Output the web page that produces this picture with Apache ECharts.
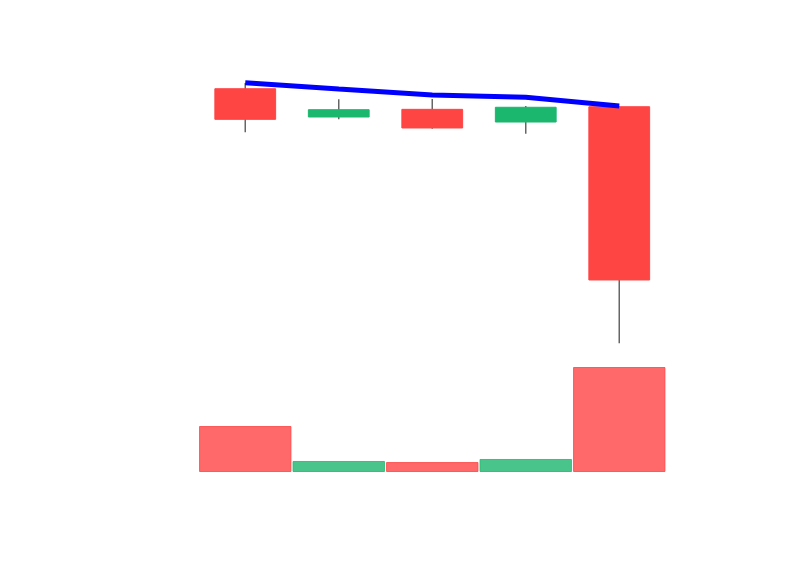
<!DOCTYPE html>
<html>
<head>
<meta charset="utf-8">
<script src="https://cdn.jsdelivr.net/npm/echarts@6/dist/echarts.min.js"></script>
<style>html,body{margin:0;padding:0;background:#fff;}#chart{width:800px;height:575px;}</style>
</head>
<body>
<div id="chart"></div>
<script>
// categories
var categories = ['D1', 'D2', 'D3', 'D4', 'D5'];
// OHLC: [open, close, low, high]
var opens  = [89.03, 85.89, 86.74, 85.33, 87.03];
var closes = [85.63, 86.70, 84.67, 86.97, 67.78];
var lows   = [84.19, 85.63, 84.59, 84.03, 60.74];
var highs  = [89.67, 87.86, 87.89, 87.11, 87.10];
// blue line values
var lineValues = [89.70, 89.00, 88.33, 88.08, 87.11];
// volumes
var volumes = [43800, 10500, 9500, 12400, 100000];

var UP = '#1bb76e', DOWN = '#ff4444';

var candleData = categories.map(function (c, i) {
  return [i, opens[i], closes[i], lows[i], highs[i]];
});
var volData = volumes.map(function (v, i) {
  var col = closes[i] >= opens[i] ? UP : DOWN;
  return { value: v, itemStyle: { color: col, opacity: 0.8, borderColor: col, borderWidth: 1 } };
});

var chart = echarts.init(document.getElementById('chart'), null, { renderer: 'canvas' });
chart.setOption({
  animation: false,
  backgroundColor: '#ffffff',
  grid: [
    { left: 198.5, width: 467.5, top: 80, height: 270 },
    { left: 198.5, width: 467.5, top: 367, height: 105 }
  ],
  xAxis: [
    { type: 'category', data: categories, gridIndex: 0, show: false, boundaryGap: true },
    { type: 'category', data: categories, gridIndex: 1, show: false, boundaryGap: true }
  ],
  yAxis: [
    { type: 'value', gridIndex: 0, min: 60, max: 90, show: false, splitLine: { show: false } },
    { type: 'value', gridIndex: 1, min: 0, max: 100000, show: false, splitLine: { show: false } }
  ],
  series: [
    {
      type: 'custom',
      xAxisIndex: 0, yAxisIndex: 0,
      data: candleData,
      encode: { x: 0, y: [1, 2, 3, 4] },
      renderItem: function (params, api) {
        var idx = api.value(0);
        var o = api.value(1), c = api.value(2), l = api.value(3), h = api.value(4);
        var pO = api.coord([idx, o]);
        var pC = api.coord([idx, c]);
        var pL = api.coord([idx, l]);
        var pH = api.coord([idx, h]);
        var band = api.size([1, 0])[0];
        var w = band * 0.65;
        var col = c >= o ? UP : DOWN;
        var top = Math.min(pO[1], pC[1]);
        var hgt = Math.abs(pO[1] - pC[1]);
        return {
          type: 'group',
          children: [
            { type: 'line', shape: { x1: pH[0], y1: pH[1], x2: pL[0], y2: pL[1] },
              style: { stroke: '#666666', lineWidth: 1.5 } },
            { type: 'rect', shape: { x: pO[0] - w / 2, y: top, width: w, height: hgt },
              style: { fill: col, stroke: col, lineWidth: 1 } }
          ]
        };
      },
      z: 2
    },
    {
      type: 'line',
      xAxisIndex: 0, yAxisIndex: 0,
      data: lineValues,
      showSymbol: false,
      symbol: 'none',
      lineStyle: { color: '#0000ff', width: 5 },
      z: 3
    },
    {
      type: 'bar',
      xAxisIndex: 1, yAxisIndex: 1,
      data: volData,
      barCategoryGap: '1.2%'
    }
  ]
});
</script>
</body>
</html>
